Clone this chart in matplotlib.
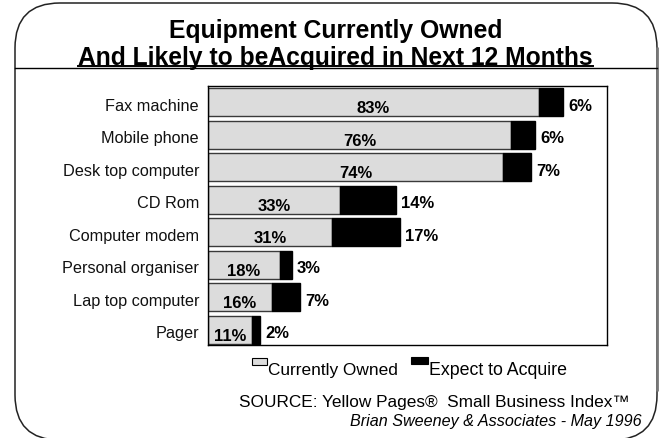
import matplotlib
matplotlib.use("Agg")
import matplotlib.pyplot as plt
from matplotlib.patches import FancyBboxPatch, Rectangle

plt.rcParams["font.family"] = ["Liberation Sans", "DejaVu Sans"]

# Survey results (% of small businesses)
categories = ["Fax machine", "Mobile phone", "Desk top computer", "CD Rom",
              "Computer modem", "Personal organiser", "Lap top computer", "Pager"]
owned = [83, 76, 74, 33, 31, 18, 16, 11]
acquire = [6, 6, 7, 14, 17, 3, 7, 2]
series_names = ["Currently Owned", "Expect to Acquire"]
title_lines = ["Equipment Currently Owned",
               "And Likely to beAcquired in Next 12 Months"]
source_text = "SOURCE: Yellow Pages\u00ae  Small Business Index\u2122"
credit_text = "Brian Sweeney & Associates - May 1996"

W, H = 663, 439
fig = plt.figure(figsize=(W / 100, H / 100), dpi=100)
fig.patch.set_facecolor("white")

# Full-figure layer in pixel units for the frame, titles and legend
bg = fig.add_axes([0, 0, 1, 1])
bg.set_xlim(0, W)
bg.set_ylim(0, H)
bg.axis("off")


def Y(y):
    return H - y


renderer = fig.canvas.get_renderer()


def fit(t, target):
    w = t.get_window_extent(renderer).width
    t.set_fontsize(t.get_fontsize() * target / w)
    return t


# Rounded frame and divider under the title
frame = FancyBboxPatch((15, Y(441)), 642, 437,
                       boxstyle="round,pad=0,rounding_size=45",
                       fc="none", ec="#222222", lw=1.1, clip_on=False)
bg.add_patch(frame)
bg.plot([657, 657], [Y(48), Y(392)], color="#777777", lw=2.0,
        solid_capstyle="butt")
bg.plot([15, 657], [Y(69), Y(69)], color="black", lw=1.0)

# Title
t1 = bg.text(335.5, Y(38.3), title_lines[0], ha="center", va="baseline",
             fontweight="bold", fontsize=17)
fit(t1, 335)
t2 = bg.text(335.5, Y(65), title_lines[1], ha="center", va="baseline",
             fontweight="bold", fontsize=17)
fit(t2, 515)
bb = t2.get_window_extent(renderer)
bg.plot([bb.x0, bb.x1], [Y(67), Y(67)], color="black", lw=1.4)

# Bars
ax = fig.add_axes([208 / W, (H - 346) / H, (607 - 208) / W, (346 - 87) / H])
pos = list(range(len(categories)))
ax.barh(pos, owned, height=0.86, color="#dcdcdc", edgecolor="#3a3a3a",
        linewidth=1.0, label=series_names[0])
ax.barh(pos, acquire, left=owned, height=0.86, color="black",
        edgecolor="black", linewidth=1.0, label=series_names[1])
ax.set_xlim(0, 100)
ax.set_ylim(7.47, -0.50)
ax.set_xticks([])
ax.set_yticks([])
for s in ax.spines.values():
    s.set_color("black")
    s.set_linewidth(1.0)

for i, (cat, o, a) in enumerate(zip(categories, owned, acquire)):
    ax.text(o / 2, i + 0.31, f"{o}%", ha="center", va="baseline",
            fontweight="bold", fontsize=12)
    ax.text(o + a + 1.3, i + 0.23, f"{a}%", ha="left", va="baseline",
            fontweight="bold", fontsize=12)
    ax.text(-2.25, i + 0.23, cat, ha="right", va="baseline", fontsize=11.7,
            color="#111111")

# Legend
bg.add_patch(Rectangle((252, Y(366)), 15, 7, fc="#dcdcdc", ec="black", lw=0.8))
l1 = bg.text(268, Y(375), series_names[0], ha="left", va="baseline", fontsize=12)
fit(l1, 130)
bg.add_patch(Rectangle((411, Y(365)), 17, 7, fc="black", ec="black", lw=0.8))
l2 = bg.text(429, Y(375), series_names[1], ha="left", va="baseline", fontsize=12)
fit(l2, 139)

# Source notes
s1 = bg.text(239, Y(407), source_text, ha="left", va="baseline", fontsize=12)
fit(s1, 391)
s2 = bg.text(642, Y(426), credit_text, ha="right", va="baseline",
             fontsize=11, fontstyle="italic")
fit(s2, 290)

fig.savefig("out.png", dpi=100, facecolor="white")
